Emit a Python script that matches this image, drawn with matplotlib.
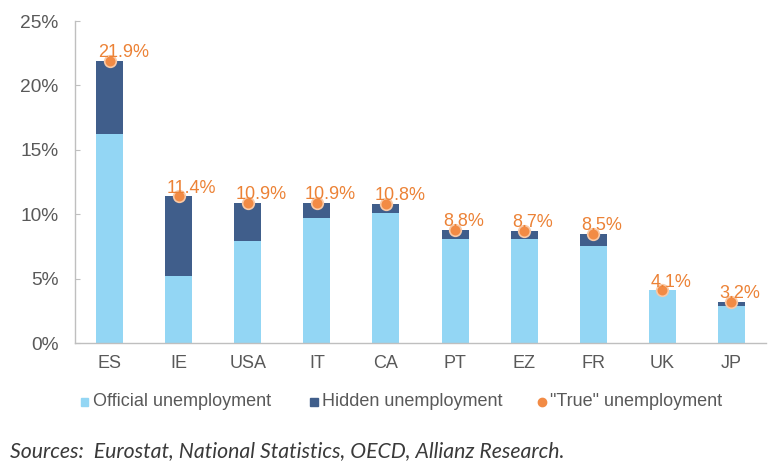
import matplotlib
matplotlib.use("Agg")
import matplotlib.pyplot as plt
from matplotlib.patches import Rectangle
from matplotlib.lines import Line2D
import numpy as np

countries = ["ES", "IE", "USA", "IT", "CA", "PT", "EZ", "FR", "UK", "JP"]
official = [16.2, 5.2, 7.9, 9.7, 10.1, 8.1, 8.1, 7.5, 4.1, 2.9]
true_rate = [21.9, 11.4, 10.9, 10.9, 10.8, 8.8, 8.7, 8.5, 4.1, 3.2]
hidden = [t - o for t, o in zip(true_rate, official)]
yticks = [0, 5, 10, 15, 20, 25]
legend_labels = ["Official unemployment", "Hidden unemployment", '"True" unemployment']

c_off = "#93D6F4"
c_hid = "#405E8B"
c_true = "#F28B45"
c_lab = "#EC8236"
c_txt = "#595959"
font = ["Liberation Sans", "DejaVu Sans"]

W, H = 777, 472
fig = plt.figure(figsize=(W / 100, H / 100), dpi=100)
ax = fig.add_axes([75 / W, (H - 343) / H, (766 - 75) / W, (343 - 21) / H])

x = np.arange(len(countries))
bw = 0.39
ax.bar(x, official, bw, color=c_off, zorder=2)
ax.bar(x, hidden, bw, bottom=official, color=c_hid, zorder=2)
ax.scatter(x, true_rate, s=70, color=c_true, edgecolors="#F9C9A6", linewidths=1.2, zorder=3)
for xi, v in zip(x, true_rate):
    ax.annotate(f"{v:.1f}%", (xi, v), xytext=(-8.5, 2.5), textcoords="offset points",
                ha="left", va="baseline", color=c_lab, fontsize=13, family=font, zorder=4)

ax.set_xlim(-0.5, 9.5)
ax.set_ylim(0, 25)
ax.set_yticks(yticks)
ax.set_yticklabels([f"{t}%" for t in yticks], family=font, fontsize=13.8, color=c_txt)
ax.set_xticks(x)
ax.set_xticklabels(countries, family=font, fontsize=13, color=c_txt)
ax.tick_params(axis="x", length=0, pad=9)
ax.tick_params(axis="y", direction="in", length=3.5, color="#BFBFBF", pad=12)
for s in ["top", "right"]:
    ax.spines[s].set_visible(False)
for s in ["left", "bottom"]:
    ax.spines[s].set_color("#BFBFBF")
    ax.spines[s].set_linewidth(1)

# legend, placed manually
ly = 1 - 402 / H
fig.patches.append(Rectangle((81 / W, ly - 4 / H), 7 / W, 8 / H, transform=fig.transFigure,
                             color=c_off, figure=fig))
fig.patches.append(Rectangle((310 / W, ly - 4 / H), 8 / W, 8 / H, transform=fig.transFigure,
                             color=c_hid, figure=fig))
fig.lines.append(Line2D([542 / W], [ly], marker="o", markersize=6, color=c_true,
                        transform=fig.transFigure, figure=fig))
for xt, lab in zip([93, 322, 550], legend_labels):
    fig.text(xt / W, ly, lab, family=font, fontsize=13, color=c_txt, ha="left", va="center")

fig.text(10 / W, 1 - 451 / H, "Sources:  Eurostat, National Statistics, OECD, Allianz Research.",
         family=["Lato", "DejaVu Sans"], style="italic", fontweight="normal", fontsize=15.3,
         color="#3A3A3A", ha="left", va="center")

fig.savefig("out.png", dpi=100)
